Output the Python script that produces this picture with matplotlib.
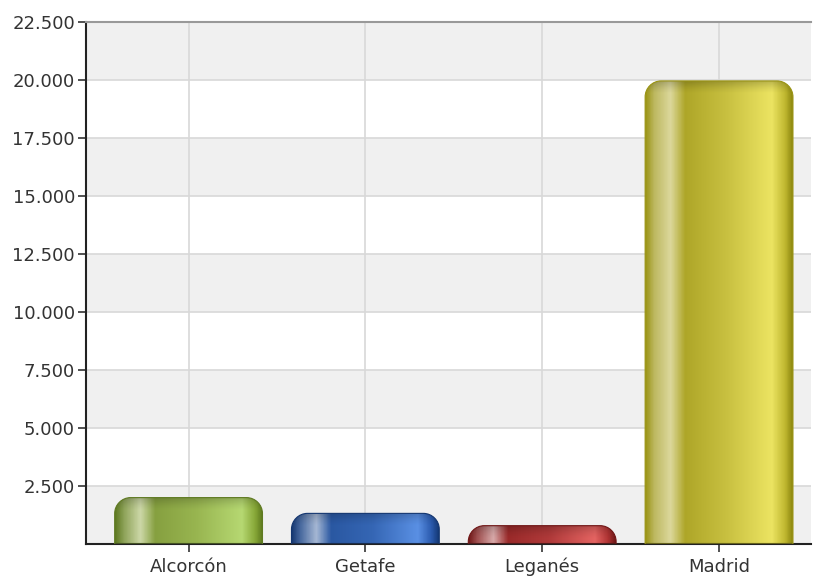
import numpy as np
import matplotlib
matplotlib.use('Agg')
import matplotlib.pyplot as plt
from matplotlib.path import Path
from matplotlib.patches import PathPatch
from matplotlib.colors import LinearSegmentedColormap
from matplotlib.ticker import FuncFormatter

# data
cities = ['Alcorcón', 'Getafe', 'Leganés', 'Madrid']
values = [2000, 1320, 790, 19960]
y_ticks = [2500, 5000, 7500, 10000, 12500, 15000, 17500, 20000, 22500]

# gradient stops per bar: (position, colour) across the bar width
bar_colors = [
    [(0.0, '#5f7a22'), (0.06, '#8fa45a'), (0.17, '#cdd8a8'), (0.27, '#86a040'),
     (0.55, '#98b550'), (0.86, '#b6d872'), (0.95, '#88a838'), (1.0, '#5e7a1e')],
    [(0.0, '#143670'), (0.06, '#47689e'), (0.17, '#a6b8d4'), (0.27, '#2a58a2'),
     (0.55, '#3566b4'), (0.86, '#5a90e4'), (0.95, '#2c5cb0'), (1.0, '#153a78')],
    [(0.0, '#701616'), (0.06, '#a05050'), (0.17, '#d8aaaa'), (0.27, '#9a2a2a'),
     (0.55, '#b03a3a'), (0.86, '#e46462'), (0.95, '#b03434'), (1.0, '#701818')],
    [(0.0, '#9a9414'), (0.06, '#bdb860'), (0.17, '#dcd89c'), (0.27, '#aea628'),
     (0.55, '#c8c040'), (0.86, '#ece462'), (0.95, '#c0b830'), (1.0, '#8e8810')],
]

W, H = 813, 579
fig = plt.figure(figsize=(W / 100, H / 100), dpi=100)
ax = fig.add_axes([86 / W, 1 - 544 / H, 725 / W, (544 - 22) / H])

xmin, xmax = -0.58, 3.52
ymin, ymax = 0, 22500
ax.set_xlim(xmin, xmax)
ax.set_ylim(ymin, ymax)

# alternating background bands
for i in range(0, 9, 2):
    ax.axhspan(i * 2500, (i + 1) * 2500, color='#f0f0f0', zorder=0, lw=0)
for y in y_ticks:
    ax.axhline(y, color='#d8d8d8', lw=1.2, zorder=1)
for i in range(len(cities)):
    ax.axvline(i, color='#d8d8d8', lw=1.2, zorder=1)

# pixel -> data conversion for rounded corners
px_x = (xmax - xmin) / 725
px_y = (ymax - ymin) / (544 - 22)
rx, ry = 16 * px_x, 16 * px_y
bw = 0.836

def top_rounded_path(x0, x1, h):
    k = 0.5523
    verts = [(x0, 0), (x0, h - ry),
             (x0, h - ry + k * ry), (x0 + rx - k * rx, h), (x0 + rx, h),
             (x1 - rx, h),
             (x1 - rx + k * rx, h), (x1, h - ry + k * ry), (x1, h - ry),
             (x1, 0), (x0, 0)]
    codes = [Path.MOVETO, Path.LINETO,
             Path.CURVE4, Path.CURVE4, Path.CURVE4,
             Path.LINETO,
             Path.CURVE4, Path.CURVE4, Path.CURVE4,
             Path.LINETO, Path.CLOSEPOLY]
    return Path(verts, codes)

grad = np.linspace(0, 1, 300).reshape(1, -1)
for i, (v, stops) in enumerate(zip(values, bar_colors)):
    x0, x1 = i - bw / 2, i + bw / 2
    cmap = LinearSegmentedColormap.from_list('b%d' % i, stops)
    patch = PathPatch(top_rounded_path(x0, x1, v), facecolor='none',
                      edgecolor=stops[0][1], lw=0.8, zorder=3)
    ax.add_patch(patch)
    im = ax.imshow(grad, cmap=cmap, extent=[x0, x1, 0, v], aspect='auto',
                   interpolation='bilinear', zorder=2)
    im.set_clip_path(patch)
    # darker cap at the top of the cylinder
    cap_h = min(13 * px_y, v)
    shade = np.zeros((50, 1, 4))
    shade[..., 3] = np.linspace(0.35, 0, 50).reshape(-1, 1) ** 1.5
    sh = ax.imshow(shade, extent=[x0, x1, v - cap_h, v], aspect='auto',
                   interpolation='bilinear', zorder=2.5)
    sh.set_clip_path(patch)

ax.set_xlim(xmin, xmax)
ax.set_ylim(ymin, ymax)

ax.set_xticks(range(len(cities)))
ax.set_xticklabels(cities)
ax.set_yticks(y_ticks)
ax.yaxis.set_major_formatter(FuncFormatter(lambda v, p: '{:,.0f}'.format(v).replace(',', '.')))
ax.tick_params(axis='both', labelsize=13, colors='#333333', length=6, width=1.2,
               direction='out')
ax.tick_params(axis='y', pad=2)
ax.tick_params(axis='x', pad=4)

for s in ['left', 'bottom']:
    ax.spines[s].set_color('#222222')
    ax.spines[s].set_linewidth(1.5)
ax.spines['top'].set_color('#999999')
ax.spines['top'].set_linewidth(1.5)
ax.spines['right'].set_visible(False)

fig.savefig('out.png', dpi=100)
